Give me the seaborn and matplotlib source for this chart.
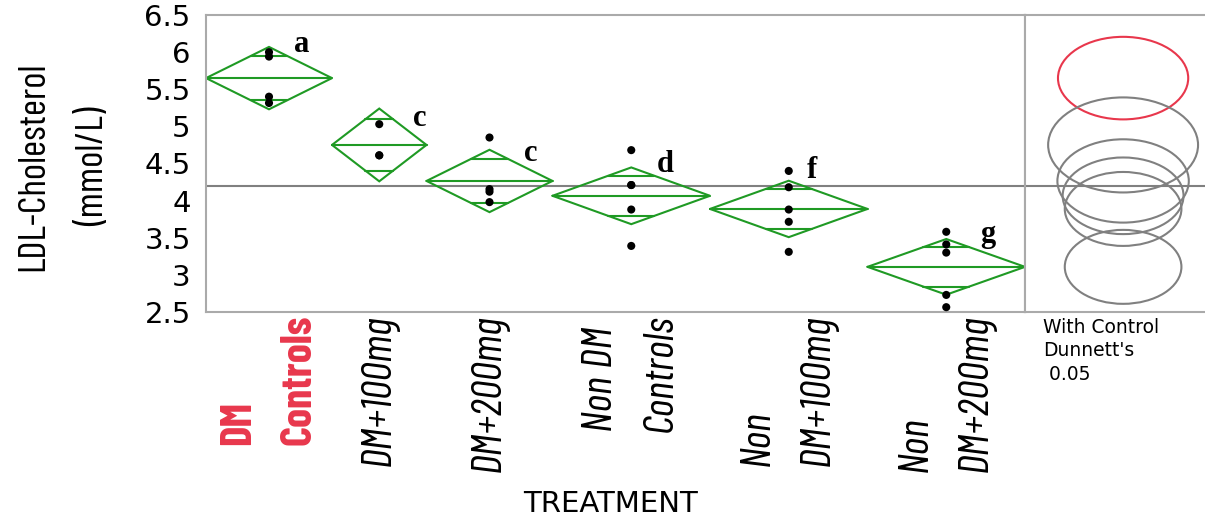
import numpy as np
import pandas as pd
import seaborn as sns
import matplotlib.pyplot as plt
from matplotlib.patches import Ellipse
from matplotlib import font_manager

# group labels and sizes (diamond width is proportional to n)
groups = ['DM\nControls', 'DM+100mg', 'DM+200mg', 'Non DM\nControls',
          'Non\nDM+100mg', 'Non\nDM+200mg']
counts = [4, 3, 4, 5, 5, 5]
means = [5.65, 4.75, 4.265, 4.065, 3.888, 3.108]
ci_half = [0.42, 0.49, 0.42, 0.382, 0.38, 0.375]
grand_mean = 4.2

values = [
    [6.0, 5.94, 5.40, 5.315],
    [5.03, 4.61, 4.61],
    [4.85, 4.155, 4.12, 3.98],
    [4.68, 4.21, 4.21, 3.88, 3.39],
    [4.40, 4.18, 3.88, 3.715, 3.31],
    [3.58, 3.41, 3.30, 2.73, 2.565],
]

letters = ['a', 'c', 'c', 'd', 'f', 'g']
letter_x = [3.05, 6.8, 10.3, 14.57, 19.24, 24.83]
letter_y = [6.10, 5.11, 4.63, 4.49, 4.41, 3.55]

circle_radius = [0.556, 0.64, 0.561, 0.516, 0.498, 0.498]
yticks = [2.5, 3, 3.5, 4, 4.5, 5, 5.5, 6, 6.5]

GREEN = '#1f9a24'
RED = '#e8374c'
GREY = '#aaaaaa'
DARK = '#808080'

sns.set_style('white', {'text.color': 'black', 'axes.labelcolor': 'black',
                        'xtick.color': 'black', 'ytick.color': 'black'})
names = {f.name for f in font_manager.fontManager.ttflist}
narrow = 'Barlow Condensed' if 'Barlow Condensed' in names else 'Liberation Sans'
plt.rcParams['font.family'] = ['DejaVu Sans']

edges = np.cumsum(counts)
centers = edges - np.array(counts) / 2

rows = []
for g, c, vals in zip(groups, centers, values):
    for v in vals:
        rows.append({'group': g, 'x': c, 'ldl': v})
df = pd.DataFrame(rows)

fig = plt.figure(figsize=(12.05, 5.17), dpi=100)
W, H = 1205, 517
ax = fig.add_axes([206 / W, 1 - 312 / H, (1025 - 206) / W, (312 - 15) / H])
ax2 = fig.add_axes([1025 / W, 1 - 312 / H, 182 / W, (312 - 15) / H], sharey=ax)

# means diamonds
for i, (c, n, m, h) in enumerate(zip(centers, counts, means, ci_half)):
    left, right = c - n / 2, c + n / 2
    ax.plot([left, c, right, c, left], [m, m + h, m, m - h, m],
            color=GREEN, lw=1.5, solid_joinstyle='miter')
    ax.plot([left, right], [m, m], color=GREEN, lw=1.5)
    off = h / np.sqrt(2)
    half = (n / 2) * (1 - 1 / np.sqrt(2))
    for s in (1, -1):
        ax.plot([c - half, c + half], [m + s * off, m + s * off], color=GREEN, lw=1.5)

sns.scatterplot(data=df, x='x', y='ldl', color='black', s=34, edgecolor='none',
                ax=ax, legend=False, zorder=5)

for t, lx, ly in zip(letters, letter_x, letter_y):
    ax.text(lx, ly, t, fontsize=22, fontweight='bold', family='Liberation Serif',
            ha='center', va='center', color='black')

ax.axhline(grand_mean, color=DARK, lw=1.5, zorder=1)
ax.set_xlim(0, edges[-1])
ax.set_ylim(2.5, 6.5)

ax.set_yticks(yticks)
ax.set_yticklabels(['%g' % v for v in yticks], fontsize=21)
ax.tick_params(axis='y', length=9, width=1.5, color=GREY, labelcolor='black', pad=2)

ax.set_xticks(centers)
ax.set_xticklabels(groups, rotation=90, ha='center', va='top', multialignment='left',
                   family=narrow, fontsize=31, style='italic', linespacing=1.7)
ax.tick_params(axis='x', length=0, pad=2, labelcolor='black')
ax.set_xticks(edges[:-1], minor=True)
ax.tick_params(axis='x', which='minor', length=6, width=1.5, color=GREY)
first = ax.get_xticklabels()[0]
first.set_color(RED)
first.set_fontweight('bold')
first.set_style('normal')

ax.set_xlabel('TREATMENT', fontsize=21, color='black')
ax.xaxis.set_label_coords(0.494, -0.6)
ax.set_ylabel('LDL-Cholesterol\n(mmol/L)', fontsize=28, family=narrow, color='black',
              linespacing=1.9, va='center', multialignment='center')
ax.yaxis.set_label_coords(-0.174, 0.49)

for sp in ax.spines.values():
    sp.set_color(GREY)
    sp.set_linewidth(1.5)

# comparison circles panel
ax2.axhline(grand_mean, color=DARK, lw=1.5, zorder=1)
ax2.set_xlim(0, 1)
k = 1.56 * 74.25 / 180
for i, (m, r) in enumerate(zip(means, circle_radius)):
    ax2.add_patch(Ellipse((0.539, m), 2 * r * k, 2 * r, fill=False,
                          edgecolor=RED if i == 0 else DARK, lw=1.5))
ax2.set_xticks([])
ax2.tick_params(axis='y', left=False, labelleft=False)
for sp in ax2.spines.values():
    sp.set_color(GREY)
    sp.set_linewidth(1.5)
ax2.spines['right'].set_visible(False)
ax2.text(0.1, -0.02, "With Control\nDunnett's\n 0.05", transform=ax2.transAxes,
         fontsize=13.5, ha='left', va='top', linespacing=1.3, color='black')

fig.savefig('out.png', dpi=100)
